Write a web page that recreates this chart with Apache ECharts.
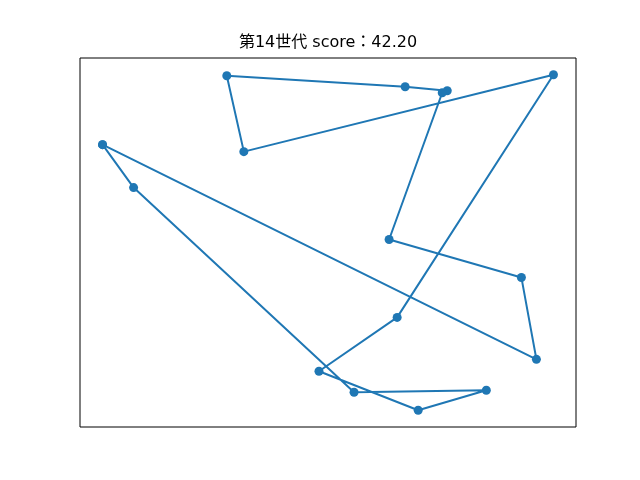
<!DOCTYPE html>
<html><head><meta charset="utf-8">
<script src="https://cdn.jsdelivr.net/npm/echarts@6/dist/echarts.min.js"></script>
<style>html,body{margin:0;padding:0;background:#fff}#c{width:640px;height:480px}</style>
</head><body><div id="c"></div>
<script>
const titleText = '第14世代 score：42.20';
// tour order (closed loop), coordinates
const xs = [103, 134, 354, 486, 418, 319, 397, 553, 244, 227, 405, 447, 442, 389, 521, 536, 103];
const ys = [336, 293, 88, 90, 70, 109, 163, 406, 329, 405, 394, 390, 388, 241, 203, 121, 336];

const pts = xs.map((x, i) => [x, ys[i]]);
const xMin = Math.min(...xs), xMax = Math.max(...xs);
const yMin = Math.min(...ys), yMax = Math.max(...ys);
const xm = (xMax - xMin) * 0.05, ym = (yMax - yMin) * 0.05;

const chart = echarts.init(document.getElementById('c'));
const hidden = {axisLine:{show:false}, axisTick:{show:false}, axisLabel:{show:false}, splitLine:{show:false}};
chart.setOption({
  animation: false,
  title: {text: titleText, left: 323, textAlign: 'center', top: 30, textStyle: {fontFamily: 'DejaVu Sans, Noto Sans CJK JP', fontSize: 16, fontWeight: 'normal', color: '#000'}},
  grid: {left: 80, right: 64, top: 58, bottom: 53, show: true, borderColor: '#000', borderWidth: 1, backgroundColor: '#fff'},
  xAxis: Object.assign({type: 'value', min: xMin - xm, max: xMax + xm}, hidden),
  yAxis: Object.assign({type: 'value', min: yMin - ym, max: yMax + ym}, hidden),
  series: [{
    type: 'line', data: pts, symbol: 'circle', symbolSize: 9,
    lineStyle: {color: '#1f77b4', width: 2}, itemStyle: {color: '#1f77b4'}
  }]
});
</script></body></html>
